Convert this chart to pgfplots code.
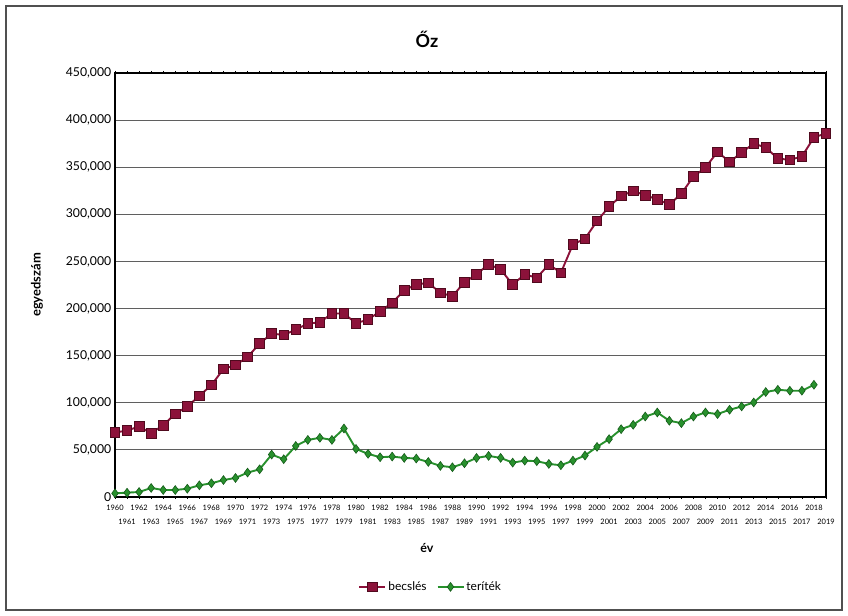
\documentclass[border=0pt]{standalone}
\usepackage{fontspec}
\setmainfont{Lato}
\usepackage{pgfplots}
\usepackage{pgfplotstable}
\pgfplotsset{compat=1.18}
\definecolor{becsred}{RGB}{140,18,58}
\definecolor{becsdark}{RGB}{80,10,30}
\definecolor{terigreen}{RGB}{40,145,45}
\definecolor{teridark}{RGB}{20,90,25}
\definecolor{gridgray}{RGB}{95,95,95}
\definecolor{framegray}{RGB}{80,80,80}

\pgfplotstableread{
year val
1960 68400
1961 70500
1962 74800
1963 67700
1964 76200
1965 88300
1966 96000
1967 107400
1968 118800
1969 135800
1970 140000
1971 148600
1972 162800
1973 173400
1974 172000
1975 177600
1976 184000
1977 185400
1978 194700
1979 194700
1980 184400
1981 188300
1982 197100
1983 206000
1984 219500
1985 225500
1986 227300
1987 216700
1988 213100
1989 228000
1990 236200
1991 247100
1992 241500
1993 225500
1994 236200
1995 232700
1996 246800
1997 238000
1998 268100
1999 274100
2000 292900
2001 308200
2002 319500
2003 324800
2004 320200
2005 316000
2006 310300
2007 322000
2008 340100
2009 349700
2010 366300
2011 355600
2012 365600
2013 375200
2014 370900
2015 359200
2016 357800
2017 361400
2018 381600
2019 385900
}\becsles

\pgfplotstableread{
year val
1960 3900
1961 4600
1962 5300
1963 9600
1964 7400
1965 7400
1966 8800
1967 12400
1968 14600
1969 18000
1970 20200
1971 25900
1972 29400
1973 45000
1974 40100
1975 54200
1976 60600
1977 62800
1978 60600
1979 72700
1980 51000
1981 45800
1982 42200
1983 42900
1984 41500
1985 40800
1986 37200
1987 33000
1988 31600
1989 35800
1990 41500
1991 43600
1992 41500
1993 36500
1994 38600
1995 38000
1996 35100
1997 33700
1998 38600
1999 44000
2000 53200
2001 61400
2002 72000
2003 76600
2004 85400
2005 89700
2006 80900
2007 78400
2008 85400
2009 89700
2010 88000
2011 92600
2012 96100
2013 100300
2014 111400
2015 113800
2016 112800
2017 112800
2018 119100
}\teritek

\begin{document}
\begin{tikzpicture}
\path[use as bounding box] (0,0) rectangle (848bp,616bp);
\draw[framegray, line width=1.2bp] (6bp,6bp) rectangle (842bp,610bp);
\node[font=\fontsize{18}{20}\selectfont\bfseries] at (427bp,577bp) {Őz};
\node[font=\fontsize{13}{15}\selectfont\bfseries, rotate=90] at (37bp,331bp) {egyedszám};
\node[font=\fontsize{12.5}{14}\selectfont\bfseries] at (427bp,68bp) {év};
\begin{axis}[
  at={(115bp,119bp)}, anchor=south west,
  scale only axis, width=711bp, height=424bp,
  xmin=1960, xmax=2019, ymin=0, ymax=450000,
  axis line style={black, line width=2.2bp},
  ytick={0,50000,...,450000},
  scaled y ticks=false,
  ymajorgrids, grid style={gridgray, line width=0.9bp},
  yticklabel style={font=\fontsize{12.3}{14}\selectfont, inner xsep=1.5bp, /pgf/number format/fixed, /pgf/number format/precision=0, /pgf/number format/1000 sep={,}, /pgf/number format/assume math mode=true},
  ytick style={draw=none},
  xtick={1960,1962,...,2018},
  xticklabel style={font=\fontsize{7.5}{8}\selectfont, inner sep=1bp, yshift=-5bp, /pgf/number format/1000 sep={}, /pgf/number format/assume math mode=true},
  extra x ticks={1961,1963,...,2019},
  extra x tick style={xticklabel style={yshift=-14bp}},
  xtick style={black, line width=0.5bp},
  tick align=outside, major tick length=2bp,
  legend style={at={(0.444,-0.212)}, anchor=center, draw=none, font=\fontsize{12}{14}\selectfont, legend columns=2, /tikz/every even column/.append style={column sep=8bp}},
  legend cell align=left,
  legend image code/.code={\draw[mark repeat=2,mark phase=2,#1] plot coordinates {(0bp,0bp) (13bp,0bp) (26bp,0bp)};},
  clip=false,
]
\addplot[becsred, line width=1.9bp, mark=square*, mark size=4.8bp, mark options={fill=becsred, draw=becsdark, line width=0.8bp}] table[x=year, y=val] {\becsles};
\addlegendentry{becslés}
\addplot[terigreen, line width=1.9bp, mark=diamond*, mark size=4.4bp, mark options={fill=terigreen, draw=teridark, line width=0.6bp}] table[x=year, y=val] {\teritek};
\addlegendentry{teríték}
\end{axis}
\end{tikzpicture}
\end{document}
